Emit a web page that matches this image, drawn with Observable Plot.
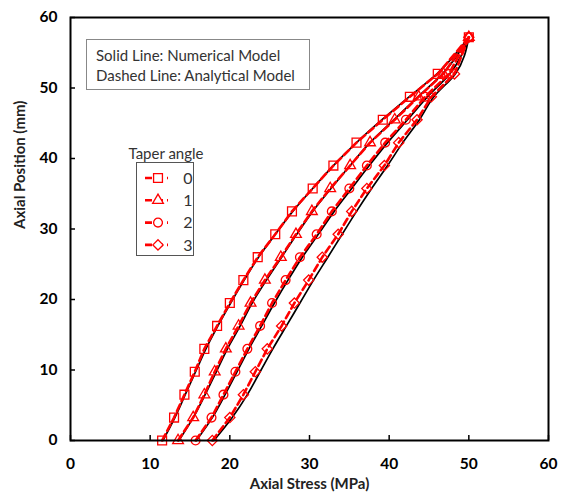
<!DOCTYPE html>
<html><head><meta charset="utf-8">
<script src="https://cdn.jsdelivr.net/npm/d3@7"></script>
<script src="https://cdn.jsdelivr.net/npm/@observablehq/plot@0.6"></script>
<style>
body{margin:0;background:#fff;}
#wrap{position:relative;width:562px;height:495px;font-family:Lato,"Open Sans",sans-serif;}
#wrap svg.plot{position:absolute;left:0;top:0;}
.box{position:absolute;background:#fff;color:#333;font-size:15px;}
</style></head><body><div id="wrap"></div>
<script>
const axialPosition = [0,3.25,6.5,9.75,13,16.25,19.5,22.75,26,29.25,32.5,35.75,39,42.25,45.5,48.75,52,57.2];
const taperAngles = ["0","1","2","3"];
const analytical0 = [11.5,13.0,14.3,15.6,16.8,18.4,20.0,21.7,23.5,25.7,27.8,30.4,33.0,35.9,39.2,42.6,46.1,50];
const analytical1 = [13.5,15.4,16.8,18.1,19.5,21.1,22.6,24.4,26.4,28.3,30.3,32.6,35.1,37.6,40.7,43.7,46.8,50];
const analytical2 = [15.7,17.7,19.2,20.7,22.2,23.8,25.3,27.0,28.8,30.9,32.8,35.0,37.2,39.5,42.1,44.5,47.5,50];
const analytical3 = [17.8,20.0,21.7,23.2,24.7,26.5,28.1,29.9,31.6,33.6,35.3,37.2,39.4,41.2,43.5,45.3,48.2,50];
const numerical0 = [11.6,13.1,14.4,15.7,17.0,18.5,20.1,21.8,23.6,25.7,27.9,30.4,33.0,35.9,39.1,42.5,46.0,50];
const numerical1 = [13.6,15.4,16.9,18.3,19.7,21.3,22.8,24.6,26.5,28.4,30.4,32.7,35.1,37.6,40.6,43.6,46.7,50];
const numerical2 = [15.8,17.8,19.4,20.9,22.4,24.0,25.6,27.3,29.1,31.1,33.1,35.3,37.5,39.8,42.3,44.8,47.6,50];
const numerical3 = [18.0,20.3,22.2,23.8,25.4,27.1,28.8,30.5,32.3,34.1,35.9,37.8,39.8,41.7,43.8,45.6,48.3,50];
const xTicks = [0,10,20,30,40,50,60];
const yTicks = [0,10,20,30,40,50,60];
const xLabel = "Axial Stress (MPa)";
const yLabel = "Axial Position (mm)";
const noteLines = ["Solid Line: Numerical Model","Dashed Line: Analytical Model"];
const legendTitle = "Taper angle";
const symbols = ["square","triangle","circle","diamond2"];
const markerR = [5.0,4.0,4.4,4.6];

const anaSets = [analytical0,analytical1,analytical2,analytical3];
const numSets = [numerical0,numerical1,numerical2,numerical3];
const anaRows = [], numRows = [];
taperAngles.forEach((a,i)=>{
  axialPosition.forEach((y,j)=>{
    anaRows.push({angle:a, y, x:anaSets[i][j]});
    numRows.push({angle:a, y, x:numSets[i][j]});
  });
});

const font = "Lato, 'Open Sans', sans-serif";
const dotMarks = taperAngles.map((a,i)=>i).reverse().map(i =>
  Plot.dot(anaRows.filter(d=>d.angle===taperAngles[i]), {x:"x", y:"y", symbol:"angle", stroke:"#ff0000", fill:"none", r:markerR[i], strokeWidth:1.3})
);
const chart = Plot.plot({
  width:562, height:495,
  marginLeft:70, marginRight:14, marginTop:17, marginBottom:55,
  style:{fontFamily:font, background:"white", color:"black"},
  x:{domain:[0,60]},
  y:{domain:[0,60]},
  symbol:{domain:taperAngles, range:symbols},
  marks:[
    Plot.axisX({ticks:xTicks, tickSize:0, tickPadding:17, fontSize:15.5, fontWeight:"bold", label:null}),
    Plot.axisX({ticks:xTicks, tickSize:-5, tickFormat:()=>"", label:null, strokeWidth:1.5}),
    Plot.axisY({ticks:yTicks, tickSize:0, tickPadding:13, fontSize:15.5, fontWeight:"bold", label:null}),
    Plot.axisY({ticks:yTicks, tickSize:-5, tickFormat:()=>"", label:null, strokeWidth:1.5}),
    Plot.line(numRows, {x:"x", y:"y", z:"angle", stroke:"black", strokeWidth:1.7, curve:"monotone-y"}),
    Plot.line(anaRows, {x:"x", y:"y", z:"angle", stroke:"#ff0000", strokeWidth:2.6, strokeDasharray:"7,4"}),
    ...dotMarks,
    Plot.frame({stroke:"black", strokeWidth:2}),
    Plot.text([xLabel], {frameAnchor:"bottom", dy:48, fontSize:15, fontWeight:"bold", fill:"#222"}),
    Plot.text([yLabel], {frameAnchor:"left", dx:-50, rotate:-90, fontSize:15, fontWeight:"bold", fill:"#222"})
  ]
});
chart.classList.add("plot");
const wrap = document.getElementById("wrap");
wrap.appendChild(chart);

// note box
const note = document.createElement("div");
note.className = "box";
Object.assign(note.style,{left:"86px",top:"39px",width:"222px",height:"49px",border:"1px solid #888",padding:"0",lineHeight:"20px"});
note.innerHTML = noteLines.map(t=>`<div style="padding-left:9px">${t}</div>`).join("");
note.firstChild.style.marginTop = "5px";
wrap.appendChild(note);

// taper legend
const ttl = document.createElement("div");
ttl.className = "box";
Object.assign(ttl.style,{left:"124px",top:"144px",width:"84px",textAlign:"center",background:"none"});
ttl.textContent = legendTitle;
wrap.appendChild(ttl);

const leg = d3.create("svg").attr("width",59).attr("height",95)
  .style("position","absolute").style("left","136px").style("top","162px");
leg.append("rect").attr("x",0.5).attr("y",0.5).attr("width",57).attr("height",93)
  .attr("fill","white").attr("stroke","#555");
taperAngles.forEach((a,i)=>{
  const cy = 16 + i*22.3;
  leg.append("line").attr("x1",9).attr("x2",32).attr("y1",cy).attr("y2",cy)
    .attr("stroke","#ff0000").attr("stroke-width",2.6).attr("stroke-dasharray","7,4");
  const sym = {square:d3.symbolSquare,triangle:d3.symbolTriangle,circle:d3.symbolCircle,diamond2:d3.symbolDiamond2}[symbols[i]];
  leg.append("path").attr("d",d3.symbol(sym, Math.PI*markerR[i]*markerR[i])()).attr("transform",`translate(22,${cy})`)
    .attr("fill","white").attr("stroke","#ff0000").attr("stroke-width",1.3);
  leg.append("text").attr("x",52).attr("y",cy).attr("dy","0.35em").attr("text-anchor","middle")
    .attr("font-size",16).attr("font-family",font).attr("fill","#333").text(a);
});
wrap.appendChild(leg.node());
</script>
</body></html>
